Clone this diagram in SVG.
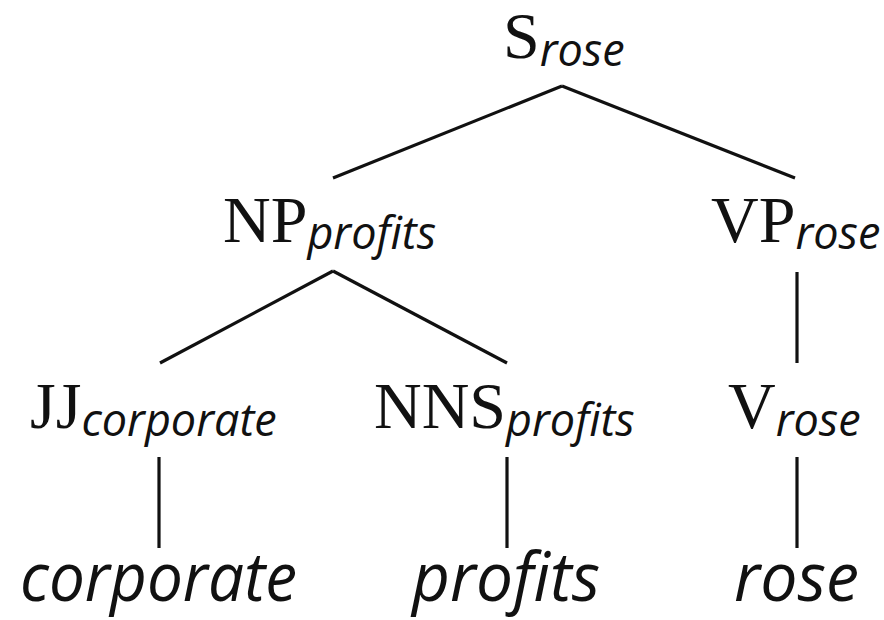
<svg xmlns="http://www.w3.org/2000/svg" width="884" height="620" viewBox="0 0 884 620">
<style>
.cat{font-family:"Liberation Serif","Times New Roman",serif;font-size:66px;fill:#111}
.sub{font-family:"Open Sans","DejaVu Sans",sans-serif;font-style:italic;font-size:45px;fill:#111}
.leaf{font-family:"Open Sans","DejaVu Sans",sans-serif;font-style:italic;font-size:68px;fill:#111}
.edge{stroke:#111;stroke-width:3.2;fill:none;stroke-linecap:butt}
</style>
<rect width="884" height="620" fill="#fff"/>
<g id="connectors">
<line class="edge" x1="562" y1="86" x2="333" y2="178"/>
<line class="edge" x1="562" y1="86" x2="795" y2="178"/>
<line class="edge" x1="333" y1="271" x2="160" y2="363"/>
<line class="edge" x1="333" y1="271" x2="507" y2="363"/>
<line class="edge" x1="797" y1="272" x2="797" y2="363"/>
<line class="edge" x1="159" y1="457" x2="159" y2="548"/>
<line class="edge" x1="507" y1="457" x2="507" y2="548"/>
<line class="edge" x1="797" y1="457" x2="797" y2="548"/>
</g>
<g id="S"><text x="503" y="58"><tspan class="cat">S</tspan><tspan class="sub" dy="8">rose</tspan></text></g>
<g id="NP"><text x="223" y="242"><tspan class="cat">NP</tspan><tspan class="sub" dy="7">profits</tspan></text></g>
<g id="VP"><text x="711" y="242"><tspan class="cat">VP</tspan><tspan class="sub" dy="7">rose</tspan></text></g>
<g id="JJ"><text x="30" y="428"><tspan class="cat">JJ</tspan><tspan class="sub" dy="8">corporate</tspan></text></g>
<g id="NNS"><text x="374" y="428"><tspan class="cat">NNS</tspan><tspan class="sub" dy="8">profits</tspan></text></g>
<g id="V"><text x="728" y="428"><tspan class="cat">V</tspan><tspan class="sub" dy="8">rose</tspan></text></g>
<g id="w1"><text class="leaf" x="20" y="601" textLength="277" lengthAdjust="spacingAndGlyphs">corporate</text></g>
<g id="w2"><text class="leaf" x="412" y="601" textLength="188" lengthAdjust="spacingAndGlyphs">profits</text></g>
<g id="w3"><text class="leaf" x="734" y="601" textLength="125" lengthAdjust="spacingAndGlyphs">rose</text></g>
</svg>
